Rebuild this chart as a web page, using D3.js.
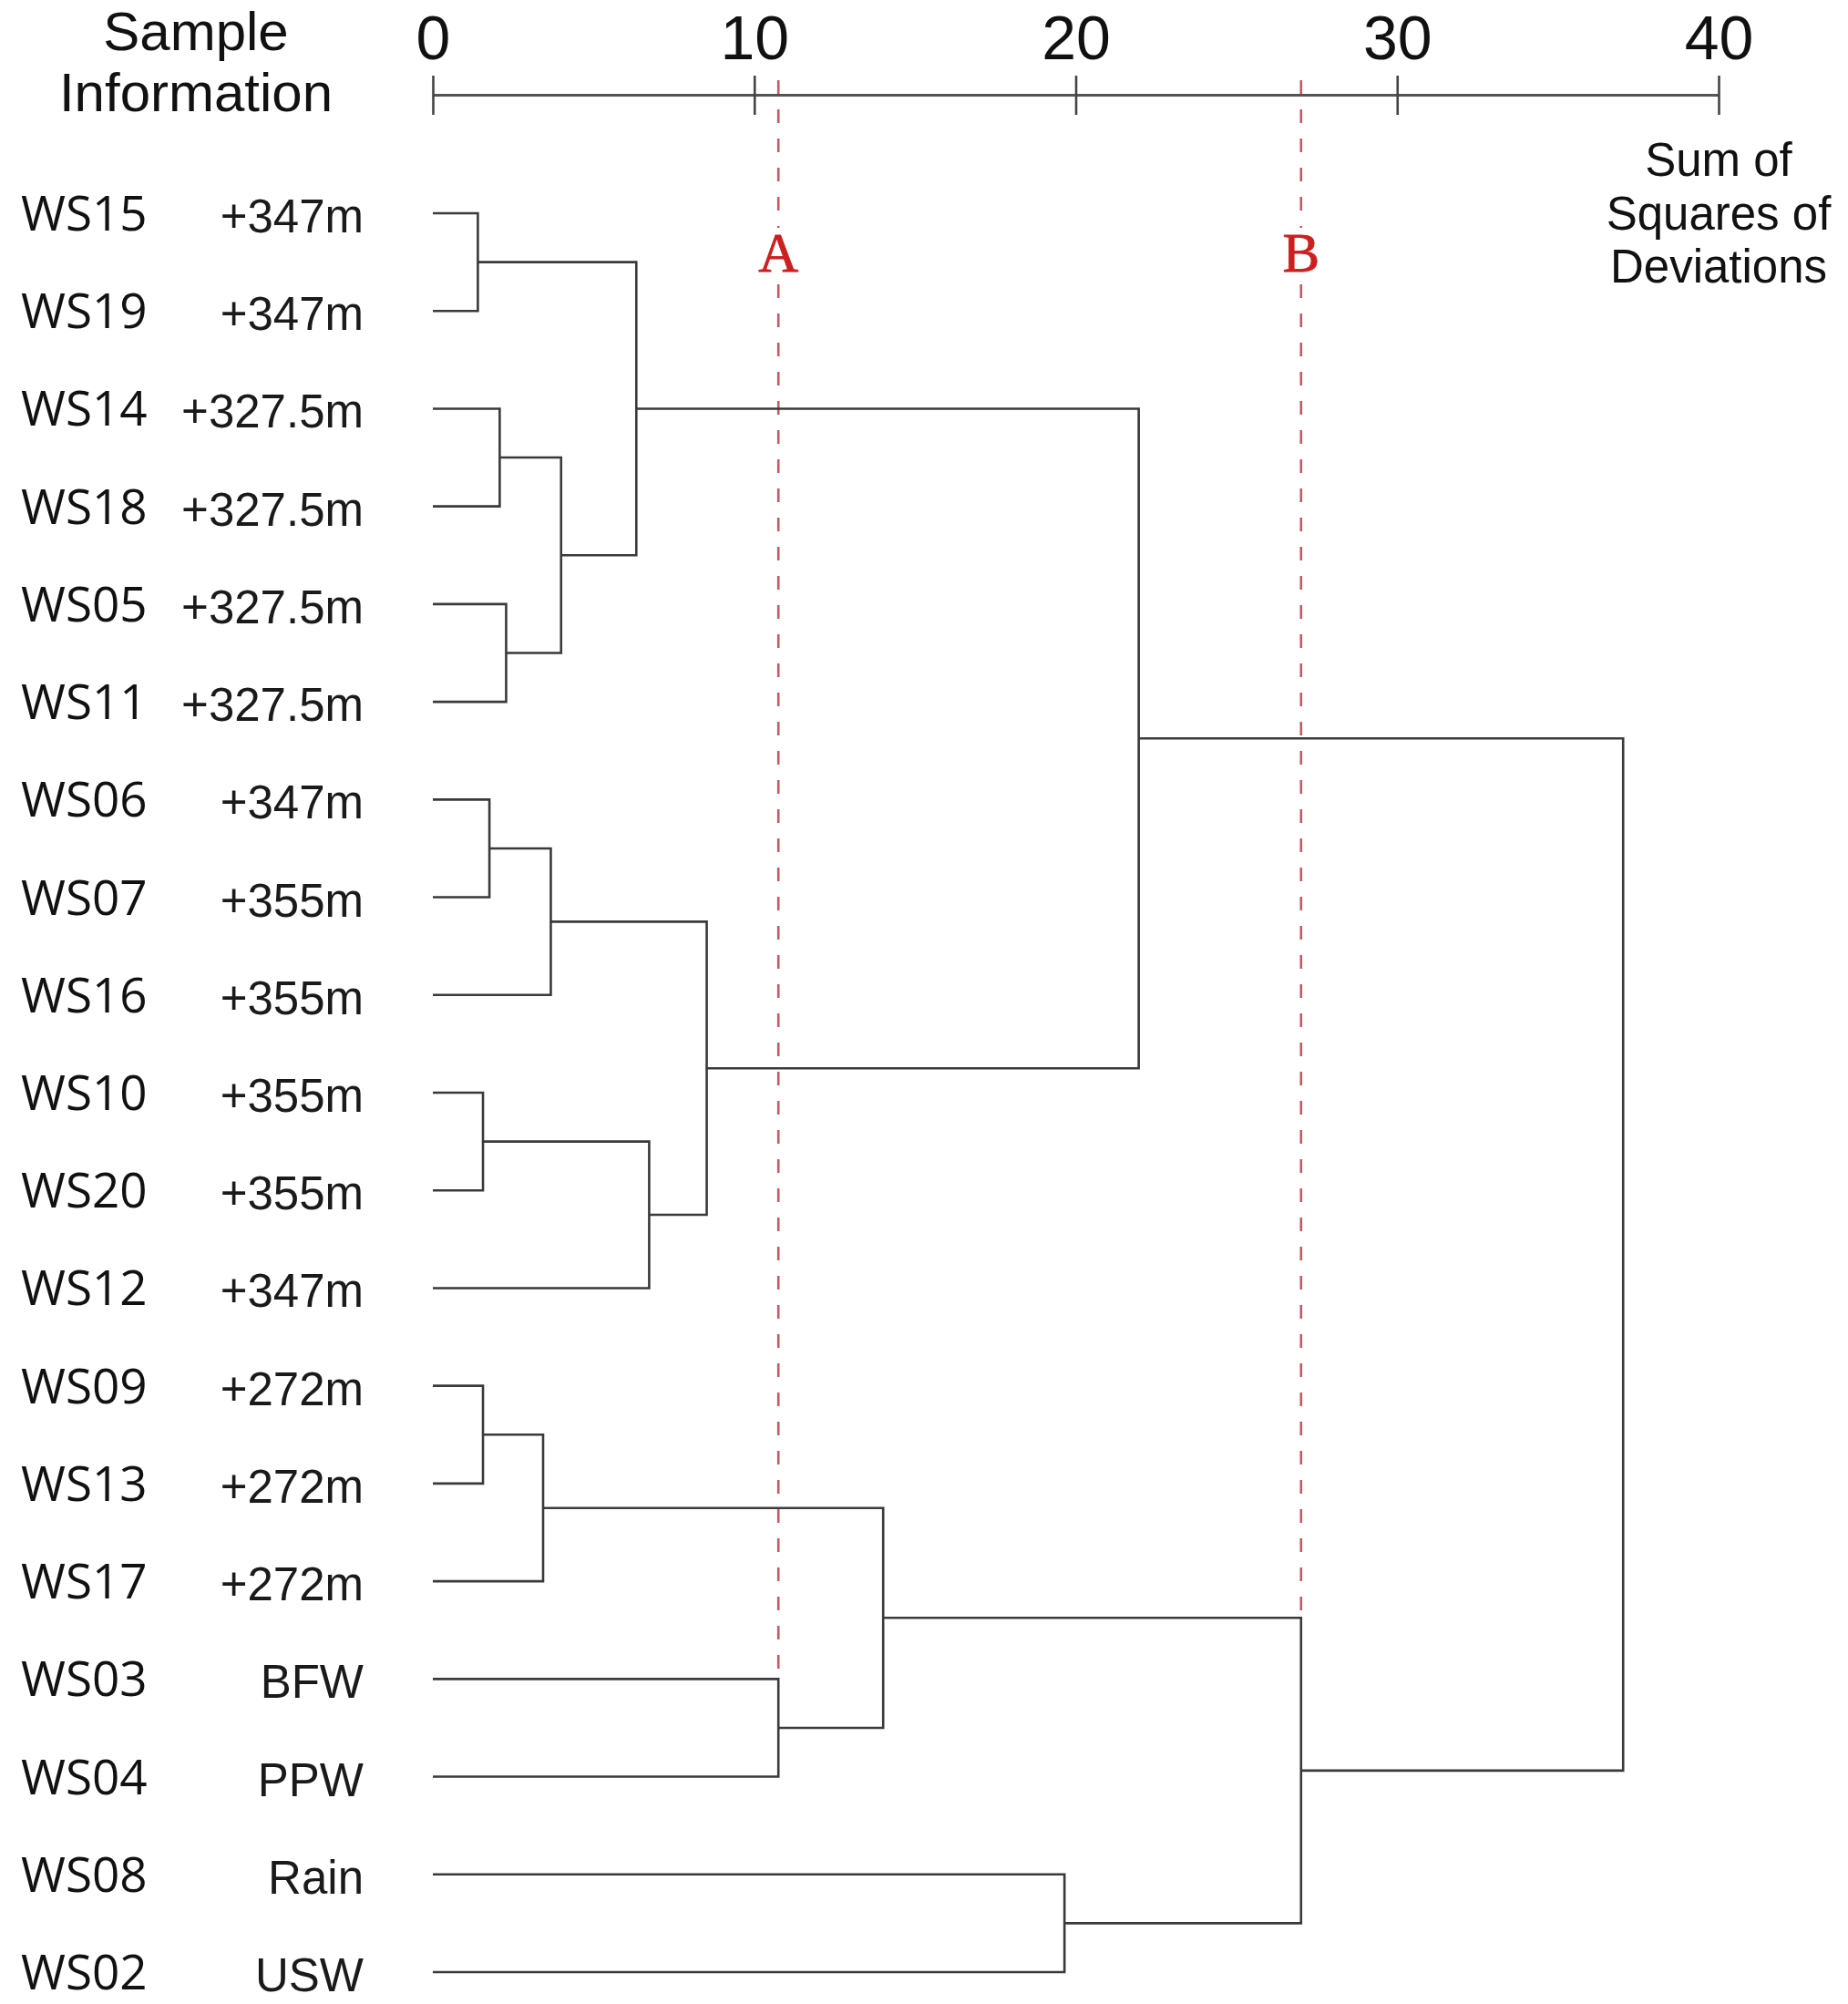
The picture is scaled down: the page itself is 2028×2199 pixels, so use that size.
<!DOCTYPE html>
<html>
<head>
<meta charset="utf-8">
<script src="https://cdn.jsdelivr.net/npm/d3@7/dist/d3.min.js"></script>
<style>
  html, body { margin: 0; padding: 0; background: #fff; }
  svg { display: block; }
</style>
</head>
<body>
<svg id="chart" width="2028" height="2199"></svg>
<script>
// ---------- DATA ----------
const samples = ["WS15","WS19","WS14","WS18","WS05","WS11","WS06","WS07","WS16","WS10",
                 "WS20","WS12","WS09","WS13","WS17","WS03","WS04","WS08","WS02"];
const sampleInfo = ["+347m","+347m","+327.5m","+327.5m","+327.5m","+327.5m","+347m","+355m","+355m","+355m",
                    "+355m","+347m","+272m","+272m","+272m","BFW","PPW","Rain","USW"];
// linkage: [child A, child B, merge height]; leaves are 0..18, new clusters numbered from 19
const mergeA = [0, 2, 4, 20, 19, 6, 24, 9, 26, 25, 23, 12, 30, 15, 31, 17, 33, 29];
const mergeB = [1, 3, 5, 21, 22, 7, 8, 10, 11, 27, 28, 13, 14, 16, 32, 18, 34, 35];
const mergeHeight = [1.40, 2.08, 2.28, 3.99, 6.33, 1.76, 3.67, 1.56, 6.73, 8.52,
                     21.96, 1.56, 3.43, 10.75, 14.01, 19.65, 27.01, 37.03];
const xTicks = [0, 10, 20, 30, 40];
const cutLabels = ["A", "B"];
const cutValues = [10.75, 27.01];
const headerLines = ["Sample", "Information"];
const axisTitleLines = ["Sum of", "Squares of", "Deviations"];

// ---------- LAYOUT ----------
const svg = d3.select("#chart");
const x = d3.scaleLinear().domain([0, 40]).range([475, 1886]);
const y = d3.scalePoint().domain(d3.range(samples.length)).range([234, 2164]);
const axisY = 104;

const lineColor = "#3a3a3a";

// nodes
const nodes = samples.map((s, i) => ({h: 0, y: y(i)}));
mergeA.forEach((a, k) => {
  const b = mergeB[k];
  nodes.push({h: mergeHeight[k], y: (nodes[a].y + nodes[b].y) / 2, a, b});
});

// ---------- CUT LINES (behind) ----------
const cuts = svg.append("g");
cutValues.forEach((v, i) => {
  const k = mergeHeight.findIndex(h => Math.abs(h - v) < 1e-6);
  const n = nodes[samples.length + k];
  const yEnd = Math.min(nodes[n.a].y, nodes[n.b].y);
  cuts.append("line")
    .attr("x1", x(v)).attr("x2", x(v))
    .attr("y1", 88).attr("y2", yEnd)
    .attr("stroke", "#c25a64").attr("stroke-width", 2.6)
    .attr("stroke-dasharray", "15,17");
  cuts.append("rect")
    .attr("x", x(v) - 26).attr("y", 250).attr("width", 52).attr("height", 58)
    .attr("fill", "#fff");
  cuts.append("text")
    .attr("x", x(v)).attr("y", 298)
    .attr("text-anchor", "middle")
    .attr("font-family", "'Liberation Serif', 'DejaVu Serif', serif")
    .attr("font-size", 61)
    .attr("fill", "#cc2020")
    .attr("stroke", "#cc2020").attr("stroke-width", 0.8)
    .text(cutLabels[i]);
});

// ---------- DENDROGRAM ----------
const links = svg.append("g")
  .attr("fill", "none").attr("stroke", lineColor).attr("stroke-width", 2.6);
nodes.slice(samples.length).forEach(n => {
  const A = nodes[n.a], B = nodes[n.b];
  links.append("path").attr("d",
    `M${x(A.h)},${A.y}H${x(n.h)}V${B.y}H${x(B.h)}`);
});

// ---------- AXIS ----------
const axis = d3.axisTop(x).tickValues(xTicks)
  .tickSizeInner(0).tickSizeOuter(0).tickPadding(39)
  .tickFormat(d3.format("d"));
const gAxis = svg.append("g").attr("transform", `translate(0,${axisY})`).call(axis);
gAxis.select(".domain").attr("stroke", "#555").attr("stroke-width", 3);
gAxis.selectAll(".tick line").attr("y1", -21).attr("y2", 22)
  .attr("stroke", "#444").attr("stroke-width", 2.6);
gAxis.selectAll(".tick text")
  .attr("font-family", "'Liberation Sans', Arial, sans-serif")
  .attr("font-size", 68).attr("fill", "#111");

// axis title
const t = svg.append("text")
  .attr("text-anchor", "middle")
  .attr("font-family", "'Liberation Sans', Arial, sans-serif")
  .attr("font-size", 51).attr("fill", "#111");
axisTitleLines.forEach((s, i) => {
  t.append("tspan").attr("x", x(40)).attr("y", 193 + i * 58.5).text(s);
});

// header
headerLines.forEach((s, i) => {
  svg.append("text")
    .attr("text-anchor", "middle")
    .attr("font-family", "'Liberation Sans', Arial, sans-serif")
    .attr("font-size", 60).attr("fill", "#111")
    .attr("x", 215).attr("y", 55 + i * 67).text(s);
});

// ---------- LABELS ----------
svg.append("g").selectAll("text").data(samples).join("text")
  .attr("x", 23).attr("y", (d, i) => y(i) + 19)
  .attr("font-family", "'Open Sans', 'Noto Sans', sans-serif")
  .attr("font-size", 53).attr("fill", "#111")
  .text(d => d);

svg.append("g").selectAll("text").data(sampleInfo).join("text")
  .attr("x", 399).attr("y", (d, i) => y(i) + 21)
  .attr("text-anchor", "end")
  .attr("font-family", "'Liberation Sans', Arial, sans-serif")
  .attr("font-size", 51).attr("fill", "#1a1a1a")
  .text(d => d);
</script>
</body>
</html>
